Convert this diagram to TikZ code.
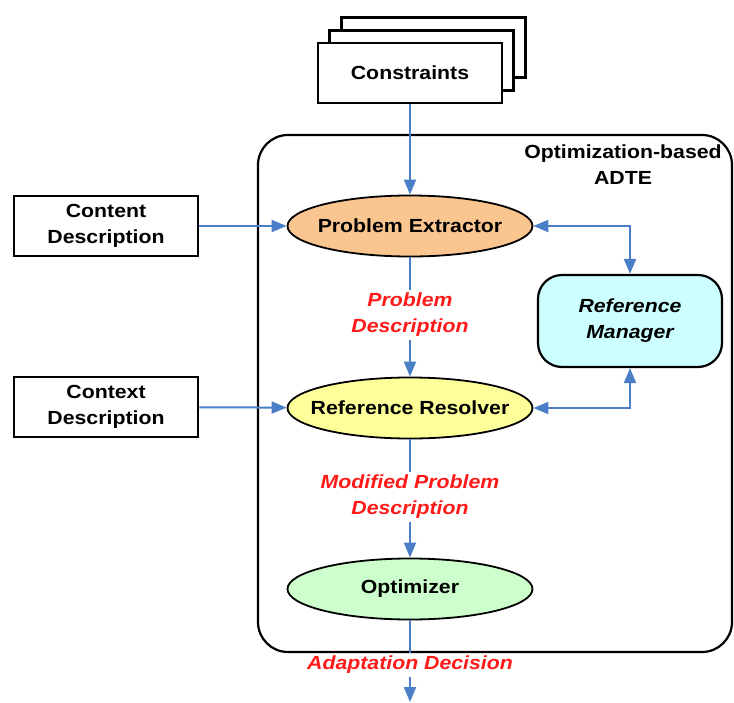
\documentclass[tikz,border=0pt]{standalone}
\usepackage{fontspec}
\setmainfont[FakeStretch=1.12]{Liberation Sans}
\usetikzlibrary{shapes.geometric,arrows.meta}
\definecolor{arrblue}{HTML}{4A7EC7}
\definecolor{peorange}{HTML}{FAC58F}
\definecolor{rryellow}{HTML}{FFFF99}
\definecolor{optgreen}{HTML}{CCFFCC}
\definecolor{rmcyan}{HTML}{CCFFFF}
\definecolor{lblred}{HTML}{FF1A1A}
\newcommand{\zw}[1]{\makebox[0pt]{#1}}
\tikzset{
  txt/.style={font=\fontsize{19}{26}\selectfont\bfseries},
  stackbox/.style={draw=black, line width=2.5pt, fill=white, minimum width=184pt, minimum height=60pt, inner sep=0pt, txt},
  inbox/.style={draw=black, line width=2.5pt, fill=white, minimum width=184pt, minimum height=60pt, inner sep=0pt, align=center, txt},
  proc/.style={ellipse, draw=black, line width=1.8pt, minimum width=245pt, minimum height=61pt, inner sep=0pt, txt},
  lbl/.style={text=lblred, font=\fontsize{19}{26}\selectfont\bfseries\itshape, align=center, inner sep=3pt},
  conn/.style={draw=arrblue, line width=2pt},
  arr/.style={conn, -{Triangle[length=15pt,width=12pt]}},
  darr/.style={conn, {Triangle[length=15pt,width=12pt]}-{Triangle[length=15pt,width=12pt]}}
}
\begin{document}
\begin{tikzpicture}[x=1pt,y=-1pt]
\useasboundingbox (0,0) rectangle (734,702);
% outer container
\draw[line width=2.2pt, rounded corners=30pt] (258,135) rectangle (732,652);
\node[txt, align=center] (adte) at (623,165) {Optimization-based\\ADTE};
% constraints stack
\node[stackbox] (cons3) at (433.5,47.5) {};
\node[stackbox] (cons2) at (421.5,60.5) {};
\node[stackbox] (cons) at (410,73) {Constraints};
% inputs
\node[inbox] (content) at (106,226) {Content\\Description};
\node[inbox] (context) at (106,407) {Context\\Description};
% processes
\node[proc, fill=peorange] (pe) at (410,226) {\zw{Problem Extractor}};
\node[proc, fill=rryellow] (rr) at (410,408) {\zw{Reference Resolver}};
\node[proc, fill=optgreen] (opt) at (410,589) {\zw{Optimizer}};
\node[draw=black, line width=2.2pt, fill=rmcyan, rounded corners=24pt, minimum width=184pt, minimum height=92pt, align=center, font=\fontsize{19}{26}\selectfont\bfseries\itshape] (rm) at (630,321) {Reference\\Manager};
% labels
\node[lbl] (l1) at (410,315) {Problem\\Description};
\node[lbl] (l2) at (410,497) {Modified Problem\\Description};
\node[lbl] (l3) at (410,665) {Adaptation Decision};
\coordinate (out) at (410,702);
% connectors
\draw[arr] (cons) -- (pe);
\draw[arr] (content) -- (pe);
\draw[arr] (context) -- (rr);
\draw[darr] (pe.east) -| (rm.north);
\draw[darr] (rr.east) -| (rm.south);
\draw[conn] (pe.south) -- (l1.north);
\draw[arr] (l1.south) -- (rr.north);
\draw[conn] (rr.south) -- (l2.north);
\draw[arr] (l2.south) -- (opt.north);
\draw[conn] (opt.south) -- (l3.north);
\draw[arr] (l3.south) -- (out);
\end{tikzpicture}
\end{document}
